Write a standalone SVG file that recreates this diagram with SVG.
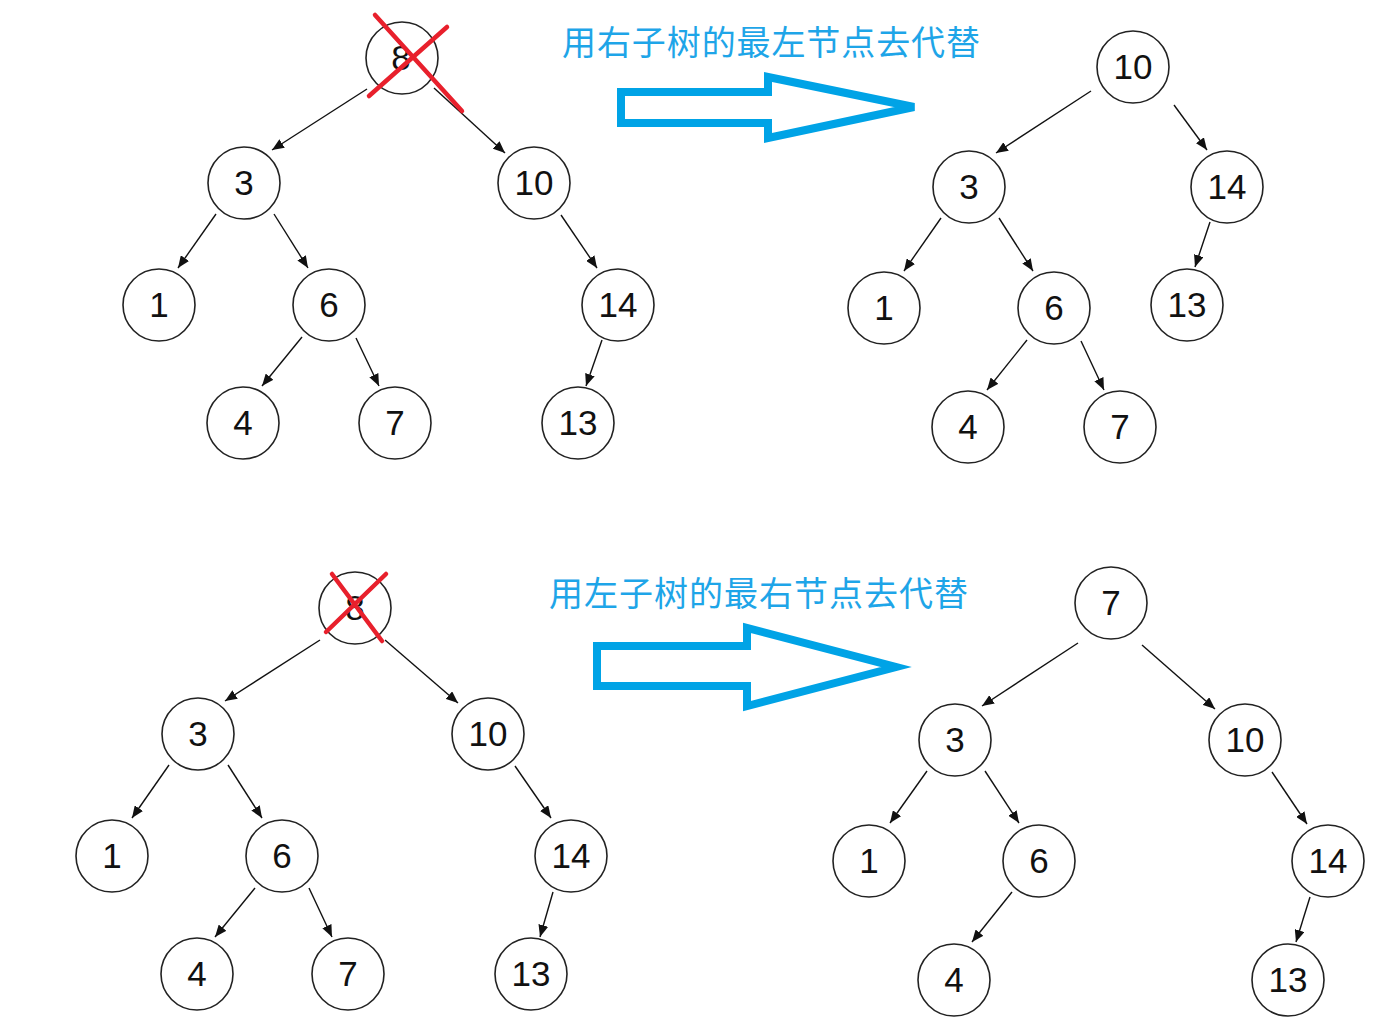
<svg xmlns="http://www.w3.org/2000/svg" width="1380" height="1028" viewBox="0 0 1380 1028">
<style>
.n circle{fill:#fff;stroke:#222;stroke-width:1.6}
.n text{font-family:"Liberation Sans",Arial,sans-serif;font-size:35px;fill:#111;text-anchor:middle}
.e line{stroke:#111;stroke-width:1.4;marker-end:url(#ah)}
.x line{stroke:#e8202c;stroke-width:4.5;stroke-linecap:round}
.big{fill:none;stroke:#00a3e6;stroke-width:8;stroke-linejoin:miter}
.cap{font-family:"Noto Sans CJK SC","Noto Sans",sans-serif;font-size:34px;fill:#1ea5e8}
</style>
<defs>
<marker id="ah" markerUnits="userSpaceOnUse" markerWidth="13" markerHeight="10" refX="12" refY="5" orient="auto"><path d="M0,0 L12,5 L0,10 z" fill="#111"/></marker>
</defs>
<rect width="1380" height="1028" fill="#fff"/>
<g id="connectors" class="e">
<line x1="367" y1="89" x2="272" y2="150"/>
<line x1="434" y1="88" x2="505" y2="153"/>
<line x1="216" y1="214" x2="178" y2="268"/>
<line x1="274" y1="214" x2="308" y2="268"/>
<line x1="302" y1="337" x2="262" y2="386"/>
<line x1="356" y1="338" x2="379" y2="386"/>
<line x1="561" y1="215" x2="597" y2="268"/>
<line x1="602" y1="340" x2="586" y2="386"/>
<line x1="1091" y1="91" x2="996" y2="153"/>
<line x1="1174" y1="105" x2="1207" y2="150"/>
<line x1="941" y1="218" x2="904" y2="271"/>
<line x1="999" y1="218" x2="1033" y2="271"/>
<line x1="1027" y1="340" x2="987" y2="390"/>
<line x1="1081" y1="341" x2="1104" y2="390"/>
<line x1="1210" y1="222" x2="1195" y2="267"/>
<line x1="320" y1="640" x2="225" y2="701"/>
<line x1="385" y1="640" x2="458" y2="703"/>
<line x1="169" y1="765" x2="132" y2="818"/>
<line x1="228" y1="765" x2="262" y2="818"/>
<line x1="255" y1="888" x2="215" y2="937"/>
<line x1="309" y1="888" x2="332" y2="937"/>
<line x1="515" y1="766" x2="551" y2="818"/>
<line x1="553" y1="892" x2="540" y2="937"/>
<line x1="1078" y1="643" x2="982" y2="706"/>
<line x1="1142" y1="645" x2="1215" y2="709"/>
<line x1="927" y1="771" x2="890" y2="823"/>
<line x1="985" y1="771" x2="1019" y2="823"/>
<line x1="1012" y1="892" x2="972" y2="942"/>
<line x1="1272" y1="772" x2="1307" y2="824"/>
<line x1="1310" y1="897" x2="1296" y2="942"/>
</g>
<g id="tl-8" class="n"><circle cx="402" cy="58" r="36"/><text x="401" y="70">8</text></g>
<g id="tl-3" class="n"><circle cx="244" cy="183" r="36"/><text x="244" y="195">3</text></g>
<g id="tl-10" class="n"><circle cx="534" cy="183" r="36"/><text x="534" y="195">10</text></g>
<g id="tl-1" class="n"><circle cx="159" cy="305" r="36"/><text x="159" y="317">1</text></g>
<g id="tl-6" class="n"><circle cx="329" cy="305" r="36"/><text x="329" y="317">6</text></g>
<g id="tl-14" class="n"><circle cx="618" cy="305" r="36"/><text x="618" y="317">14</text></g>
<g id="tl-4" class="n"><circle cx="243" cy="423" r="36"/><text x="243" y="435">4</text></g>
<g id="tl-7" class="n"><circle cx="395" cy="423" r="36"/><text x="395" y="435">7</text></g>
<g id="tl-13" class="n"><circle cx="578" cy="423" r="36"/><text x="578" y="435">13</text></g>
<g id="tr-10" class="n"><circle cx="1133" cy="67" r="36"/><text x="1133" y="79">10</text></g>
<g id="tr-3" class="n"><circle cx="969" cy="187" r="36"/><text x="969" y="199">3</text></g>
<g id="tr-14" class="n"><circle cx="1227" cy="187" r="36"/><text x="1227" y="199">14</text></g>
<g id="tr-1" class="n"><circle cx="884" cy="308" r="36"/><text x="884" y="320">1</text></g>
<g id="tr-6" class="n"><circle cx="1054" cy="308" r="36"/><text x="1054" y="320">6</text></g>
<g id="tr-13" class="n"><circle cx="1187" cy="305" r="36"/><text x="1187" y="317">13</text></g>
<g id="tr-4" class="n"><circle cx="968" cy="427" r="36"/><text x="968" y="439">4</text></g>
<g id="tr-7" class="n"><circle cx="1120" cy="427" r="36"/><text x="1120" y="439">7</text></g>
<g id="bl-8" class="n"><circle cx="355" cy="608" r="36"/><text x="355" y="620">8</text></g>
<g id="bl-3" class="n"><circle cx="198" cy="734" r="36"/><text x="198" y="746">3</text></g>
<g id="bl-10" class="n"><circle cx="488" cy="734" r="36"/><text x="488" y="746">10</text></g>
<g id="bl-1" class="n"><circle cx="112" cy="856" r="36"/><text x="112" y="868">1</text></g>
<g id="bl-6" class="n"><circle cx="282" cy="856" r="36"/><text x="282" y="868">6</text></g>
<g id="bl-14" class="n"><circle cx="571" cy="856" r="36"/><text x="571" y="868">14</text></g>
<g id="bl-4" class="n"><circle cx="197" cy="974" r="36"/><text x="197" y="986">4</text></g>
<g id="bl-7" class="n"><circle cx="348" cy="974" r="36"/><text x="348" y="986">7</text></g>
<g id="bl-13" class="n"><circle cx="531" cy="974" r="36"/><text x="531" y="986">13</text></g>
<g id="br-7" class="n"><circle cx="1111" cy="603" r="36"/><text x="1111" y="615">7</text></g>
<g id="br-3" class="n"><circle cx="955" cy="740" r="36"/><text x="955" y="752">3</text></g>
<g id="br-10" class="n"><circle cx="1245" cy="740" r="36"/><text x="1245" y="752">10</text></g>
<g id="br-1" class="n"><circle cx="869" cy="861" r="36"/><text x="869" y="873">1</text></g>
<g id="br-6" class="n"><circle cx="1039" cy="861" r="36"/><text x="1039" y="873">6</text></g>
<g id="br-14" class="n"><circle cx="1328" cy="861" r="36"/><text x="1328" y="873">14</text></g>
<g id="br-4" class="n"><circle cx="954" cy="980" r="36"/><text x="954" y="992">4</text></g>
<g id="br-13" class="n"><circle cx="1288" cy="980" r="36"/><text x="1288" y="992">13</text></g>
<g id="cross-top" class="x"><line x1="375" y1="15" x2="462" y2="111"/><line x1="447" y1="27" x2="369" y2="96"/></g>
<g id="cross-bottom" class="x"><line x1="332" y1="574" x2="382" y2="641"/><line x1="386" y1="574" x2="326" y2="632"/></g>
<g id="arrow-top"><polygon class="big" points="621,92 768,92 768,77 914,107 768,138 768,123 621,123"/></g>
<g id="arrow-bottom"><polygon class="big" points="597,646 747,646 747,628 896,667 747,706 747,686 597,686"/></g>
<g id="captions">
<text class="cap" x="562" y="55" textLength="418">用右子树的最左节点去代替</text>
<text class="cap" x="549" y="606" textLength="419">用左子树的最右节点去代替</text>
</g>
</svg>
